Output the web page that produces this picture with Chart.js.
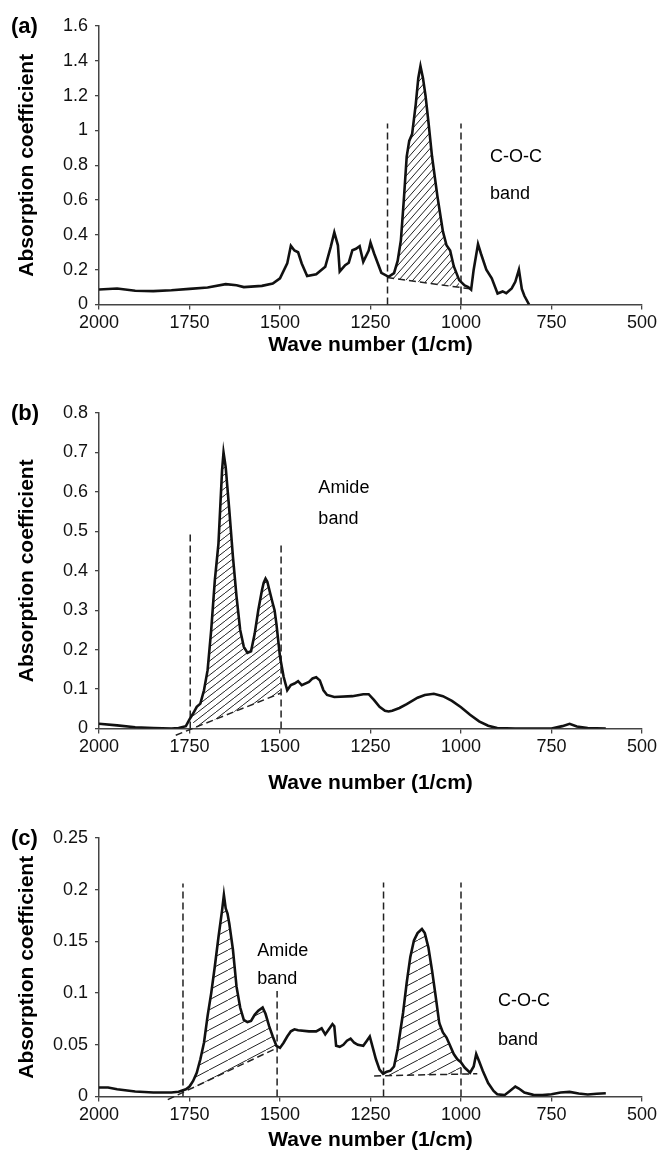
<!DOCTYPE html>
<html>
<head>
<meta charset="utf-8">
<script src="https://cdn.jsdelivr.net/npm/chart.js@4.4.0/dist/chart.umd.min.js"></script>
<style>
  body { margin:0; background:#fff; width:662px; height:1159px; overflow:hidden; position:relative; }
  canvas { position:absolute; left:0; }
</style>
</head>
<body>
<canvas id="chartA" width="662" height="362" style="top:0"></canvas>
<canvas id="chartB" width="662" height="438" style="top:362px"></canvas>
<canvas id="chartC" width="662" height="357" style="top:800px"></canvas>
<script>
/* ---------- data ---------- */
const xTicks = [2000, 1750, 1500, 1250, 1000, 750, 500];

// (a)
const waveA = [2000,1950,1900,1850,1800,1750,1700,1650,1620,1600,1550,1520,1500,1480,1470,1460,1450,1440,1425,1400,1375,1360,1350,1340,1335,1320,1310,1300,1290,1280,1270,1255,1250,1240,1220,1200,1185,1175,1166,1158,1150,1143,1135,1125,1118,1112,1105,1098,1090,1080,1065,1050,1040,1030,1020,1005,990,980,972,965,953,945,930,915,899,885,875,860,850,840,832,825,812];
const absA  = [0.086,0.092,0.079,0.077,0.082,0.09,0.098,0.117,0.111,0.10,0.107,0.12,0.15,0.236,0.337,0.31,0.30,0.236,0.163,0.174,0.217,0.33,0.414,0.34,0.19,0.226,0.24,0.312,0.32,0.335,0.245,0.31,0.356,0.293,0.182,0.159,0.18,0.25,0.37,0.6,0.85,0.94,0.98,1.15,1.3,1.37,1.3,1.2,1.05,0.85,0.62,0.42,0.34,0.31,0.22,0.14,0.11,0.10,0.085,0.2,0.347,0.293,0.2,0.15,0.063,0.075,0.065,0.092,0.13,0.2,0.09,0.05,0];
const yTicksA = [0, 0.2, 0.4, 0.6, 0.8, 1, 1.2, 1.4, 1.6];
const bandsA = [[1203, 1000]];
const edgesA = [1203, 1000];
const edgeTopsA = [1.04, 1.04];
const baseXA = [[1204, 974]];
const baseYA = [[0.155, 0.09]];
const notesA = ['C-O-C', 'band'];
const notesXA = [920, 920];
const notesYA = [0.849, 0.634];

// (b)
const waveB = [2000,1950,1900,1850,1800,1780,1760,1750,1740,1730,1720,1710,1700,1690,1680,1670,1660,1656,1650,1640,1630,1620,1610,1600,1590,1580,1570,1560,1550,1545,1540,1535,1528,1520,1515,1510,1500,1490,1480,1470,1460,1450,1440,1420,1410,1400,1390,1380,1370,1350,1300,1270,1255,1240,1225,1210,1200,1190,1170,1150,1120,1100,1075,1050,1025,1000,975,950,925,900,850,800,750,720,700,680,650,600];
const absB  = [0.012,0.008,0.003,0.001,0,0.001,0.006,0.023,0.038,0.055,0.063,0.097,0.148,0.25,0.376,0.469,0.655,0.70,0.663,0.553,0.435,0.334,0.25,0.207,0.192,0.196,0.24,0.30,0.35,0.37,0.38,0.372,0.346,0.317,0.30,0.266,0.182,0.131,0.097,0.11,0.114,0.12,0.11,0.118,0.127,0.13,0.122,0.097,0.085,0.08,0.082,0.087,0.087,0.072,0.055,0.045,0.043,0.045,0.052,0.062,0.078,0.085,0.088,0.082,0.07,0.054,0.035,0.018,0.007,0.001,0,0,0,0.006,0.012,0.005,0.001,0];
const yTicksB = [0, 0.1, 0.2, 0.3, 0.4, 0.5, 0.6, 0.7, 0.8];
const bandsB = [[1748, 1497]];
const edgesB = [1748, 1497];
const edgeTopsB = [0.493, 0.473];
const baseXB = [[1788, 1497]];
const baseYB = [[-0.017, 0.09]];
const notesB = ['Amide', 'band'];
const notesXB = [1394, 1394];
const notesYB = [0.61, 0.532];

// (c)
const waveC = [2000,1975,1950,1900,1850,1800,1780,1760,1750,1740,1730,1720,1710,1700,1690,1680,1670,1660,1655,1650,1645,1640,1630,1620,1610,1600,1590,1580,1570,1560,1548,1540,1530,1520,1510,1500,1490,1480,1470,1460,1450,1420,1400,1385,1375,1365,1355,1350,1345,1335,1325,1315,1305,1295,1285,1270,1260,1252,1245,1235,1225,1215,1205,1195,1185,1175,1160,1150,1140,1130,1120,1108,1100,1090,1080,1070,1060,1050,1040,1030,1020,1010,1000,990,975,965,958,950,940,925,910,900,880,865,850,840,825,800,775,750,725,700,675,650,625,600];
const absC  = [0.0087,0.0087,0.007,0.0048,0.0038,0.0038,0.0045,0.007,0.0096,0.015,0.023,0.036,0.052,0.078,0.10,0.126,0.154,0.18,0.195,0.182,0.177,0.167,0.142,0.106,0.086,0.074,0.072,0.073,0.079,0.083,0.086,0.080,0.068,0.058,0.049,0.047,0.052,0.058,0.063,0.065,0.064,0.063,0.063,0.066,0.06,0.065,0.070,0.068,0.049,0.048,0.05,0.054,0.056,0.052,0.05,0.049,0.054,0.058,0.049,0.036,0.026,0.022,0.024,0.025,0.029,0.046,0.081,0.11,0.135,0.151,0.158,0.162,0.158,0.144,0.122,0.097,0.071,0.062,0.057,0.049,0.041,0.036,0.033,0.028,0.023,0.029,0.041,0.034,0.025,0.013,0.0054,0.0022,0.0013,0.0054,0.0096,0.0077,0.0038,0.0016,0.0013,0.0022,0.0038,0.0045,0.0029,0.0019,0.0026,0.0032];
const yTicksC = [0, 0.05, 0.1, 0.15, 0.2, 0.25];
const bandsC = [[1768, 1508], [1214, 1000]];
const edgesC = [1768, 1508, 1214, 1000];
const edgeTopsC = [0.206, 0.102, 0.207, 0.207];
const baseXC = [[1810, 1508], [1240, 955]];
const baseYC = [[-0.003, 0.047], [0.0199, 0.022]];
const notesC = ['Amide', 'band', 'C-O-C', 'band'];
const notesXC = [1563, 1563, 898, 898];
const notesYC = [0.141, 0.114, 0.092, 0.055];

/* ---------- helpers ---------- */
const FONT = '"Liberation Sans", Arial, sans-serif';
Chart.defaults.font.family = FONT;
Chart.defaults.color = '#111';

function pts(xs, ys) {
  return xs.map((x, i) => ({ x: x, y: ys[i] }));
}

// diagonal hatching tile, line slope h/w
function hatch(w, h) {
  const c = document.createElement('canvas');
  c.width = w; c.height = h;
  const g = c.getContext('2d');
  g.strokeStyle = '#222';
  g.lineWidth = 1;
  g.beginPath();
  for (const dx of [-w, 0, w]) {
    g.moveTo(dx, h);
    g.lineTo(dx + w, 0);
  }
  g.stroke();
  return g.createPattern(c, 'repeat');
}

const panelText = {
  id: 'panelText',
  afterDraw(chart, args, o) {
    const { ctx, chartArea: a, scales: { x, y } } = chart;
    ctx.save();
    ctx.fillStyle = '#000';
    ctx.textAlign = 'left';
    ctx.textBaseline = 'middle';
    ctx.font = 'bold 22px ' + FONT;
    ctx.fillText(o.label, 11, a.top + 1);
    ctx.font = '18px ' + FONT;
    o.notes.forEach((t, i) => {
      ctx.fillText(t, x.getPixelForValue(o.nx[i]), y.getPixelForValue(o.ny[i]));
    });
    ctx.restore();
  }
};

function makePanel(p) {
  const dash = { borderColor: '#222', borderWidth: 1.5, borderDash: [7, 4], pointRadius: 0, fill: false, clip: false };
  const curve = pts(p.wave, p.abs);
  const ds = [{ data: curve, borderColor: '#111', borderWidth: 2.6, pointRadius: 0, fill: false }];
  const nB = p.bands.length;
  p.bands.forEach((b, i) => {
    ds.push({
      data: curve.filter(q => q.x <= b[0] && q.x >= b[1]),
      borderWidth: 0, pointRadius: 0,
      backgroundColor: p.pattern,
      fill: 1 + nB + i
    });
  });
  p.baseX.forEach((bx, i) => ds.push(Object.assign({ data: pts(bx, p.baseY[i]) }, dash)));
  p.edges.forEach((e, i) => ds.push(Object.assign({ data: [{ x: e, y: 0 }, { x: e, y: p.edgeTops[i] }] }, dash)));

  const tickFont = { size: 18 };
  const axisCol = '#444';
  new Chart(document.getElementById(p.id), {
    type: 'line',
    data: { datasets: ds },
    plugins: [panelText],
    options: {
      responsive: false,
      animation: false,
      layout: { padding: { top: p.padTop, right: 20, left: 0, bottom: 0 } },
      plugins: {
        legend: { display: false },
        tooltip: { enabled: false },
        panelText: { label: p.label, notes: p.notes, nx: p.nx, ny: p.ny }
      },
      scales: {
        x: {
          type: 'linear', reverse: true, min: 500, max: 2000,
          afterBuildTicks: s => { s.ticks = xTicks.map(v => ({ value: v })); },
          afterFit: s => { s.height = p.xHeight; },
          ticks: { font: tickFont, color: '#111', padding: 3, maxRotation: 0, autoSkip: false,
                   callback: v => String(v) },
          grid: { drawOnChartArea: false, tickLength: 5, color: axisCol, lineWidth: 1.3 },
          border: { color: axisCol, width: 1.5 },
          title: { display: true, text: 'Wave number (1/cm)', color: '#000',
                   font: { size: 21, weight: 'bold' }, padding: { top: 0, bottom: 4 } }
        },
        y: {
          type: 'linear', min: 0, max: p.yTicks[p.yTicks.length - 1],
          afterBuildTicks: s => { s.ticks = p.yTicks.map(v => ({ value: v })); },
          afterFit: s => { s.width = 99; },
          ticks: { font: tickFont, color: '#111', padding: 7, callback: v => String(v) },
          grid: { drawOnChartArea: false, tickLength: 4, color: axisCol, lineWidth: 1.3 },
          border: { color: axisCol, width: 1.5 },
          title: { display: true, text: 'Absorption coefficient', color: '#000',
                   font: { size: 21, weight: 'bold' }, padding: { top: 15, bottom: 0 } }
        }
      }
    }
  });
}

makePanel({ id: 'chartA', label: '(a)', wave: waveA, abs: absA, yTicks: yTicksA,
  bands: bandsA, edges: edgesA, edgeTops: edgeTopsA, baseX: baseXA, baseY: baseYA,
  notes: notesA, nx: notesXA, ny: notesYA, pattern: hatch(7, 8), padTop: 26, xHeight: 57.5 });

makePanel({ id: 'chartB', label: '(b)', wave: waveB, abs: absB, yTicks: yTicksB,
  bands: bandsB, edges: edgesB, edgeTops: edgeTopsB, baseX: baseXB, baseY: baseYB,
  notes: notesB, nx: notesXB, ny: notesYB, pattern: hatch(9, 7), padTop: 51, xHeight: 71.5 });

makePanel({ id: 'chartC', label: '(c)', wave: waveC, abs: absC, yTicks: yTicksC,
  bands: bandsC, edges: edgesC, edgeTops: edgeTopsC, baseX: baseXC, baseY: baseYC,
  notes: notesC, nx: notesXC, ny: notesYC, pattern: hatch(19, 10), padTop: 38, xHeight: 60.5 });
</script>
</body>
</html>
